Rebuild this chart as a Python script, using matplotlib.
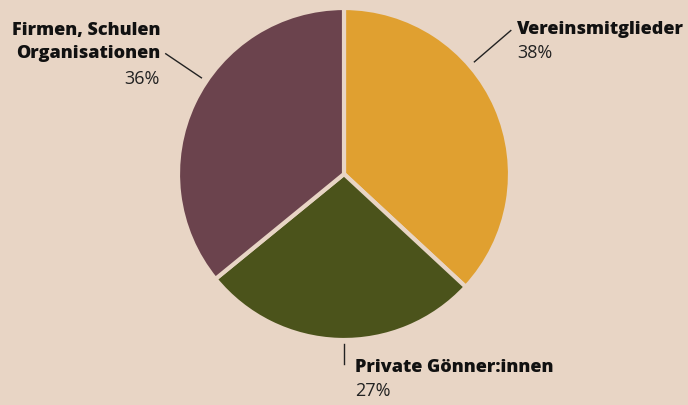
import numpy as np
import matplotlib.pyplot as plt

# Anteile (im Uhrzeigersinn ab 12 Uhr)
labels = ['Vereinsmitglieder', 'Private Gönner:innen', 'Firmen, Schulen\nOrganisationen']
values = [36.9, 27.2, 35.9]
pct_text = ['38%', '27%', '36%']
colors = ['#e0a030', '#4b531b', '#6b434d']
bg = '#e8d5c5'

fig = plt.figure(figsize=(6.88, 4.05), dpi=100, facecolor=bg)
ax = fig.add_axes([0, 0, 1, 1])
ax.set_facecolor(bg)

cx, cy, r = 344, 231, 166
ax.pie(values, colors=colors, startangle=90, counterclock=False,
       center=(cx, cy), radius=r, frame=True,
       wedgeprops=dict(edgecolor=bg, linewidth=3))
ax.set_xlim(0, 688)
ax.set_ylim(0, 405)
ax.set_aspect('equal')
ax.axis('off')

# leader lines: angle (deg), inner and outer radius
leaders = [(40.7, 172, 220), (-90, 170, 190), (146, 172, 215)]
for ang, r0, r1 in leaders:
    a = np.deg2rad(ang)
    ax.plot([cx + r0 * np.cos(a), cx + r1 * np.cos(a)],
            [cy + r0 * np.sin(a), cy + r1 * np.sin(a)],
            color='#222222', lw=1)

font = 'Open Sans'
fs = 13
# Vereinsmitglieder
ax.text(517, 405 - 30, labels[0], ha='left', va='center', fontsize=fs,
        fontweight=800, family=font, color='#111111')
ax.text(517, 405 - 53, pct_text[0], ha='left', va='center', fontsize=fs,
        family=font, color='#222222')
# Private
ax.text(355, 405 - 368, labels[1], ha='left', va='center', fontsize=fs,
        fontweight=800, family=font, color='#111111')
ax.text(355, 405 - 391, pct_text[1], ha='left', va='center', fontsize=fs,
        family=font, color='#222222')
# Firmen
ax.text(160, 405 - 42, labels[2], ha='right', va='center', fontsize=fs,
        fontweight=800, family=font, color='#111111', linespacing=1.4)
ax.text(160, 405 - 79, pct_text[2], ha='right', va='center', fontsize=fs,
        family=font, color='#222222')

fig.savefig('out.png', dpi=100, facecolor=bg)
